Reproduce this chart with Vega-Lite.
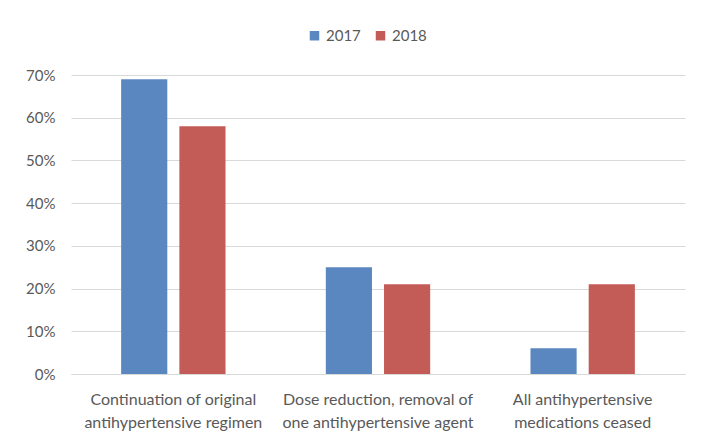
{
  "$schema": "https://vega.github.io/schema/vega-lite/v6.json",
  "width": 614,
  "height": 299,
  "autosize": {"type": "none"},
  "padding": {"left": 71, "top": 75, "right": 23, "bottom": 67},
  "background": "white",
  "data": {
    "values": [
      {"outcome": "Continuation of original|antihypertensive regimen", "year": "2017", "share": 0.69},
      {"outcome": "Continuation of original|antihypertensive regimen", "year": "2018", "share": 0.58},
      {"outcome": "Dose reduction, removal of|one antihypertensive agent", "year": "2017", "share": 0.25},
      {"outcome": "Dose reduction, removal of|one antihypertensive agent", "year": "2018", "share": 0.21},
      {"outcome": "All antihypertensive|medications ceased", "year": "2017", "share": 0.06},
      {"outcome": "All antihypertensive|medications ceased", "year": "2018", "share": 0.21}
    ]
  },
  "mark": {"type": "bar"},
  "encoding": {
    "x": {
      "field": "outcome",
      "type": "nominal",
      "sort": null,
      "scale": {"paddingInner": 0.49, "paddingOuter": 0.245},
      "axis": {
        "title": null,
        "labelAngle": 0,
        "labelExpr": "split(datum.label, '|')",
        "labelFont": "Lato",
        "labelFontSize": 16,
        "labelColor": "#595959",
        "labelLineHeight": 23,
        "labelPadding": 17,
        "ticks": false,
        "domainColor": "#D9D9D9",
        "labelLimit": 300,
        "labelOverlap": false
      }
    },
    "xOffset": {
      "field": "year",
      "type": "nominal",
      "scale": {"paddingInner": 0.207, "paddingOuter": 0}
    },
    "y": {
      "field": "share",
      "type": "quantitative",
      "scale": {"domain": [0, 0.7], "nice": false},
      "axis": {
        "title": null,
        "format": ".0%",
        "values": [0, 0.1, 0.2, 0.3, 0.4, 0.5, 0.6, 0.7],
        "domain": false,
        "ticks": false,
        "labelOverlap": false,
        "labelFlush": false,
        "labelFont": "Lato",
        "labelFontSize": 15,
        "labelColor": "#595959",
        "labelPadding": 16,
        "gridColor": "#D9D9D9",
        "gridWidth": 1
      }
    },
    "color": {
      "field": "year",
      "type": "nominal",
      "scale": {"domain": ["2017", "2018"], "range": ["#5A87C0", "#C35B57"]},
      "legend": {
        "title": null,
        "orient": "none",
        "direction": "horizontal",
        "legendX": 236,
        "legendY": -47,
        "symbolType": "square",
        "symbolSize": 90,
        "symbolStrokeWidth": 0,
        "labelFont": "Lato",
        "labelFontSize": 15,
        "labelColor": "#595959",
        "labelOffset": 4,
        "columnPadding": 12
      }
    }
  },
  "config": {
    "view": {"stroke": null}
  }
}
